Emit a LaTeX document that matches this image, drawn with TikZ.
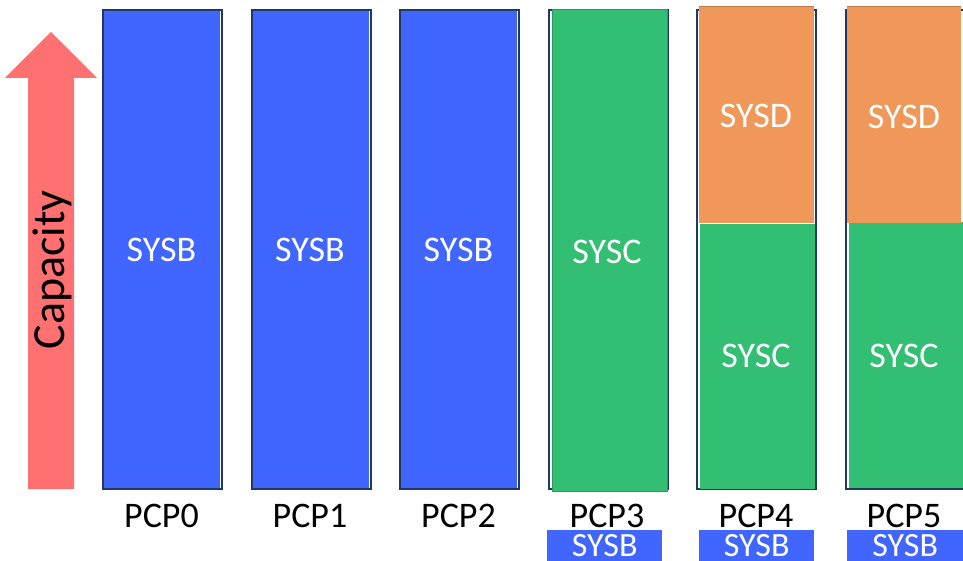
\documentclass[tikz,border=0pt]{standalone}
\usepackage{fontspec}
\setmainfont{Carlito}
\definecolor{sysb}{RGB}{64,102,255}
\definecolor{sysc}{RGB}{51,191,115}
\definecolor{sysd}{RGB}{240,152,90}
\definecolor{frame}{RGB}{31,56,100}
\definecolor{arrowred}{RGB}{255,112,112}
\tikzset{
  slot/.style={draw=frame, line width=2pt, fill=white, inner sep=0pt,
    minimum width=119pt, minimum height=479pt, anchor=north west},
  part/.style={inner sep=0pt, anchor=north west},
  inlabel/.style={text=white, font=\fontsize{36}{36}\selectfont},
  pcplabel/.style={text=black, font=\fontsize{36}{36}\selectfont},
  tag/.style={fill=sysb, text=white, inner sep=0pt, minimum width=115pt,
    minimum height=31pt, font=\fontsize{34}{34}\selectfont, anchor=north west},
}
\begin{document}
\begin{tikzpicture}[x=1pt,y=-1pt]
\useasboundingbox (0,0) rectangle (963,561);

% capacity arrow
\fill[arrowred] (28,489) -- (28,78) -- (5,78) -- (51,32) -- (97,78) -- (74,78) -- (74,489) -- cycle;
\node[rotate=90, font=\fontsize{46}{46}\selectfont] (cap) at (52,270) {Capacity};

% PCP0..PCP2: all SYSB
\foreach \i/\x in {0/101, 1/249.5, 2/398} {
  \node[slot] (slot\i) at (\x+1,9) {};
  \node[part, fill=sysb, minimum width=116pt, minimum height=477pt] (b\i) at (\x+3,10.5) {};
  \node[inlabel] (lb\i) at (\x+60.5,250) {SYSB};
  \node[pcplabel] (p\i) at (\x+60.5,516) {PCP\i};
}

% PCP3: SYSC
\node[slot] (slot3) at (547.5,9) {};
\node[part, fill=sysc, draw=sysc!80!black, line width=0.8pt, minimum width=115pt, minimum height=481pt] (c3) at (552,9.5) {};
\node[inlabel] (lc3) at (607,252) {SYSC};
\node[pcplabel] (p3) at (607,516) {PCP3};

% PCP4: SYSD on top of SYSC
\node[slot] (slot4) at (696,9) {};
\node[part, fill=sysc, minimum width=115pt, minimum height=265pt] (c4) at (700,223.5) {};
\node[part, fill=sysd, minimum width=115pt, minimum height=216pt] (d4) at (699,6.5) {};
\draw[sysd!80!black, line width=1.2pt] (d4.north west) -- (d4.north east);
\node[inlabel] (ld4) at (756,116) {SYSD};
\node[inlabel] (lc4) at (756,356) {SYSC};
\node[pcplabel] (p4) at (756,516) {PCP4};

% PCP5: SYSD on top of SYSC
\node[slot] (slot5) at (844.5,9) {};
\node[part, fill=sysc, minimum width=116pt, minimum height=266pt] (c5) at (849,221.5) {};
\node[part, fill=sysd, minimum width=114pt, minimum height=216pt] (d5) at (847,6.5) {};
\draw[sysd!80!black, line width=1.2pt] (d5.north west) -- (d5.north east);
\node[inlabel] (ld5) at (904,117) {SYSD};
\node[inlabel] (lc5) at (904,356) {SYSC};
\node[pcplabel] (p5) at (904,516) {PCP5};

% SYSB share tags under PCP3..PCP5
\node[tag] (t3) at (547,530) {SYSB};
\node[tag] (t4) at (699,530) {SYSB};
\node[tag, minimum width=116pt] (t5) at (847,530) {SYSB};
\end{tikzpicture}
\end{document}
